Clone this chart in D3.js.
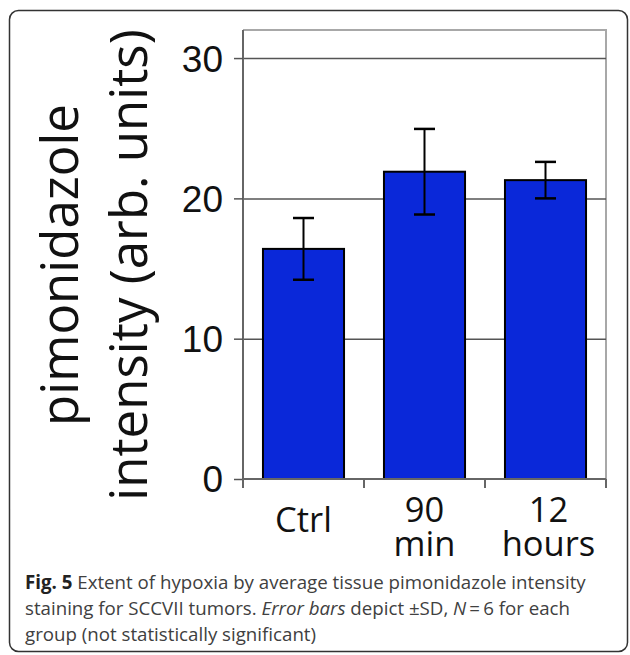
<!DOCTYPE html>
<html>
<head>
<meta charset="utf-8">
<script src="https://cdn.jsdelivr.net/npm/d3@7"></script>
<style>
  html, body { margin: 0; padding: 0; background: #fff; }
  svg { display: block; }
</style>
</head>
<body>
<div class="chart"></div>
<script>
'use strict';

// values
const groups = ['Ctrl', '90 min', '12 hours'];
const groupLines = [['Ctrl'], ['90', 'min'], ['12', 'hours']];
const means = [16.4, 21.9, 21.3];
const sds = [2.2, 3.05, 1.3];
const yTicks = [0, 10, 20, 30];

const FULL_WIDTH = 630;
const FULL_HEIGHT = 655;

const plot = { left: 243, right: 606, top: 30, bottom: 479 };

const svg = d3.select('.chart')
  .append('svg')
    .attr('width', FULL_WIDTH)
    .attr('height', FULL_HEIGHT);

// outer frame of the figure panel
svg.append('rect')
  .attr('x', 9.5)
  .attr('y', 10.5)
  .attr('width', 618)
  .attr('height', 641)
  .attr('rx', 9)
  .attr('fill', '#fff')
  .attr('stroke', '#333')
  .attr('stroke-width', 1.5);

const x = d3.scaleBand()
  .domain(groups)
  .range([plot.left, plot.right])
  .paddingInner(0.33)
  .paddingOuter(0.165);

const y = d3.scaleLinear()
  .domain([0, 32])
  .range([plot.bottom, plot.top]);

// top + right edge of plot box
svg.append('path')
  .attr('d', `M${plot.left},${plot.top}H${plot.right}V${plot.bottom}`)
  .attr('fill', 'none')
  .attr('stroke', '#a8a8a8')
  .attr('stroke-width', 2);

// gridlines
svg.append('g')
    .attr('transform', 'translate(' + plot.left + ',0)')
    .call(d3.axisLeft(y).tickValues(yTicks.slice(1)).tickSize(-(plot.right - plot.left)).tickFormat(''))
    .call((g) => g.select('.domain').remove())
    .call((g) => g.selectAll('line').attr('stroke', '#555').attr('stroke-width', 1.5));

// y axis
svg.append('g')
    .attr('transform', 'translate(' + plot.left + ',0)')
    .call(d3.axisLeft(y).tickValues(yTicks).tickSize(9).tickSizeOuter(0).tickPadding(11))
    .call((g) => g.select('.domain').attr('stroke', '#666').attr('stroke-width', 2)
      .attr('d', `M0,${plot.top}V${plot.bottom + 9}`))
    .call((g) => g.selectAll('line').attr('stroke', '#555').attr('stroke-width', 1.5))
    .call((g) => g.selectAll('text')
      .attr('font-family', '"Liberation Sans", Arial, sans-serif')
      .attr('font-size', '37px')
      .attr('fill', '#111')
      .attr('dy', '0.35em'));

// bars
svg.selectAll('.bar')
  .data(groups)
  .enter()
  .append('rect')
    .attr('class', 'bar')
    .attr('x', (d) => x(d))
    .attr('width', x.bandwidth())
    .attr('y', (d, i) => y(means[i]))
    .attr('height', (d, i) => y(0) - y(means[i]))
    .attr('fill', '#0a28d9')
    .attr('stroke', '#000')
    .attr('stroke-width', 2);

// x axis line + ticks at group boundaries
const half = (x.step() - x.bandwidth()) / 2;
const edges = groups.map((d) => x(d) - half);
edges[0] = plot.left;
edges.push(plot.right);

svg.append('line')
  .attr('x1', plot.left).attr('x2', plot.right)
  .attr('y1', y(0)).attr('y2', y(0))
  .attr('stroke', '#666')
  .attr('stroke-width', 2);

svg.selectAll('.xtick')
  .data(edges)
  .enter()
  .append('line')
    .attr('class', 'xtick')
    .attr('x1', (d) => d).attr('x2', (d) => d)
    .attr('y1', y(0)).attr('y2', y(0) + 9)
    .attr('stroke', '#666')
    .attr('stroke-width', 2);

// error bars
const err = svg.selectAll('.err')
  .data(groups)
  .enter()
  .append('g')
    .attr('class', 'err')
    .attr('transform', (d) => 'translate(' + (x(d) + x.bandwidth() / 2) + ',0)');

err.append('line')
  .attr('y1', (d, i) => y(means[i] + sds[i]))
  .attr('y2', (d, i) => y(means[i] - sds[i]))
  .attr('stroke', '#000')
  .attr('stroke-width', 2);

err.append('line')
  .attr('x1', -10.5).attr('x2', 10.5)
  .attr('y1', (d, i) => y(means[i] + sds[i]))
  .attr('y2', (d, i) => y(means[i] + sds[i]))
  .attr('stroke', '#000')
  .attr('stroke-width', 2.5);

err.append('line')
  .attr('x1', -10.5).attr('x2', 10.5)
  .attr('y1', (d, i) => y(means[i] - sds[i]))
  .attr('y2', (d, i) => y(means[i] - sds[i]))
  .attr('stroke', '#000')
  .attr('stroke-width', 2.5);

// category labels (one text per line)
groups.forEach((d, i) => {
  const lines = groupLines[i];
  const cx = x(d) + x.bandwidth() / 2 + (i === 2 ? 3 : 0);
  const base = lines.length === 1 ? 532 : 522;
  lines.forEach((t, j) => {
    svg.append('text')
      .attr('class', 'xlabel')
      .attr('x', cx)
      .attr('y', base + j * 34)
      .attr('text-anchor', 'middle')
      .attr('font-family', '"Open Sans", sans-serif')
      .attr('font-size', '34.5px')
      .attr('fill', '#111')
      .text(t);
  });
});

// y axis title, two lines
const yTitle = svg.append('text')
  .attr('transform', 'translate(0,' + 265 + ') rotate(-90)')
  .attr('text-anchor', 'middle')
  .attr('font-family', '"Open Sans", sans-serif')
  .attr('font-size', '51px')
  .attr('fill', '#111');

yTitle.append('tspan').attr('x', 0).attr('y', 78).text('pimonidazole');
yTitle.append('tspan').attr('x', 0).attr('y', 147).text('intensity (arb. units)');

// caption
const caption = svg.append('text')
  .attr('font-family', '"Open Sans", sans-serif')
  .attr('font-size', '18.7px')
  .attr('fill', '#404040');

const l1 = caption.append('tspan').attr('x', 25).attr('y', 589);
l1.append('tspan').attr('font-weight', 'bold').attr('fill', '#222').text('Fig. 5');
l1.append('tspan').text(' Extent of hypoxia by average tissue pimonidazole intensity');

const l2 = caption.append('tspan').attr('x', 25).attr('y', 615);
l2.append('tspan').text('staining for SCCVII tumors. ');
l2.append('tspan').attr('font-style', 'italic').text('Error bars');
l2.append('tspan').text(' depict \u00b1SD, ');
l2.append('tspan').attr('font-style', 'italic').text('N');
l2.append('tspan').text('\u2009=\u20096 for each');

caption.append('tspan').attr('x', 25).attr('y', 641).text('group (not statistically significant)');
</script>
</body>
</html>
